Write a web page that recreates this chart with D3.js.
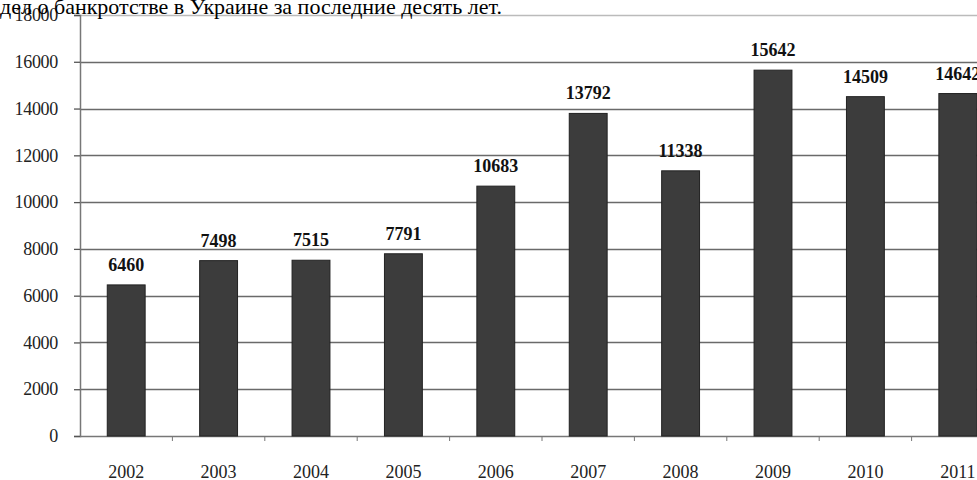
<!DOCTYPE html>
<html>
<head>
<meta charset="utf-8">
<script src="https://cdn.jsdelivr.net/npm/d3@7"></script>
<style>
  body { margin: 0; background: #fff; }
  svg { display: block; font-family: "Liberation Serif", "DejaVu Serif", serif; }
</style>
</head>
<body>
<svg class="chart"></svg>
<script>
// число дел о банкротстве по годам
var years = ['2002', '2003', '2004', '2005', '2006', '2007', '2008', '2009', '2010', '2011']
var cases = [6460, 7498, 7515, 7791, 10683, 13792, 11338, 15642, 14509, 14642]
var yTicks = [0, 2000, 4000, 6000, 8000, 10000, 12000, 14000, 16000, 18000]
var title = 'дел о банкротстве в Украине за последние десять лет.'

var W = 977, H = 480
var margin = {left: 80, top: 15, bottom: 44}

var svg = d3.select('.chart')
    .attr('width', W)
    .attr('height', H)

// the plot runs on past the right edge of the picture, as in the scan
var x = d3.scaleBand()
    .domain(years)
    .range([margin.left, margin.left + 924])
    .paddingInner(0.59)
    .paddingOuter(0.295)

var y = d3.scaleLinear()
    .domain([0, 18000])
    .range([H - margin.bottom, margin.top])

// grid
svg.append('g')
  .selectAll('line')
  .data(yTicks.slice(1))
  .enter().append('line')
    .attr('x1', margin.left)
    .attr('x2', W)
    .attr('y1', function(d) { return Math.round(y(d)) + 0.5 })
    .attr('y2', function(d) { return Math.round(y(d)) + 0.5 })
    .attr('stroke', function(d) { return d == 18000 ? '#bbb' : '#6a6a6a' })
    .attr('stroke-width', 1.3)

// y axis
var yAxis = d3.axisLeft(y)
    .tickValues(yTicks)
    .tickSize(6)
    .tickPadding(16)
    .tickFormat(d3.format('d'))

var gy = svg.append('g')
    .attr('transform', 'translate(' + margin.left + ',0)')
    .call(yAxis)
gy.attr('font-family', null)
gy.select('.domain').attr('stroke', '#777').attr('stroke-width', 1.5)
gy.selectAll('.tick line').attr('stroke', '#555').attr('stroke-width', 1.3)
gy.selectAll('.tick text')
    .attr('font-size', 18)
    .attr('font-family', '"Liberation Serif", serif')
    .attr('fill', '#222')
    .style('letter-spacing', '-0.3px')

// x axis: ticks sit on the band borders
var edges = years.map(function(d) { return x(d) - x.step() * x.paddingInner() / 2 })
var gx = svg.append('g')
gx.append('line')
    .attr('x1', margin.left)
    .attr('x2', W)
    .attr('y1', y(0) + 0.5)
    .attr('y2', y(0) + 0.5)
    .attr('stroke', '#777')
    .attr('stroke-width', 1.5)
gx.selectAll('.edge')
  .data(edges.slice(1))
  .enter().append('line')
    .attr('class', 'edge')
    .attr('x1', function(d) { return d })
    .attr('x2', function(d) { return d })
    .attr('y1', y(0))
    .attr('y2', y(0) + 5)
    .attr('stroke', '#777')
gx.selectAll('text')
  .data(years)
  .enter().append('text')
    .attr('x', function(d) { return x(d) + x.bandwidth() / 2 })
    .attr('y', y(0) + 42)
    .attr('text-anchor', 'middle')
    .attr('font-size', 18)
    .attr('fill', '#222')
    .text(function(d) { return d })

// bars
svg.append('g')
  .selectAll('rect')
  .data(cases)
  .enter().append('rect')
    .attr('x', function(d, i) { return x(years[i]) })
    .attr('y', function(d) { return y(d) })
    .attr('width', x.bandwidth())
    .attr('height', function(d) { return y(0) - y(d) })
    .attr('fill', '#3c3c3c')
    .attr('stroke', '#222')
    .attr('stroke-width', 1)

// value labels
svg.append('g')
  .selectAll('text')
  .data(cases)
  .enter().append('text')
    .attr('x', function(d, i) { return x(years[i]) + x.bandwidth() / 2 })
    .attr('y', function(d) { return y(d) - 14 })
    .attr('text-anchor', 'middle')
    .attr('font-size', 18)
    .attr('font-weight', 'bold')
    .attr('fill', '#111')
    .text(function(d) { return d })

// clipped caption at the very top
svg.append('text')
    .attr('x', 0)
    .attr('y', 14)
    .attr('font-size', 22)
    .attr('fill', '#000')
    .text(title)
</script>
</body>
</html>
